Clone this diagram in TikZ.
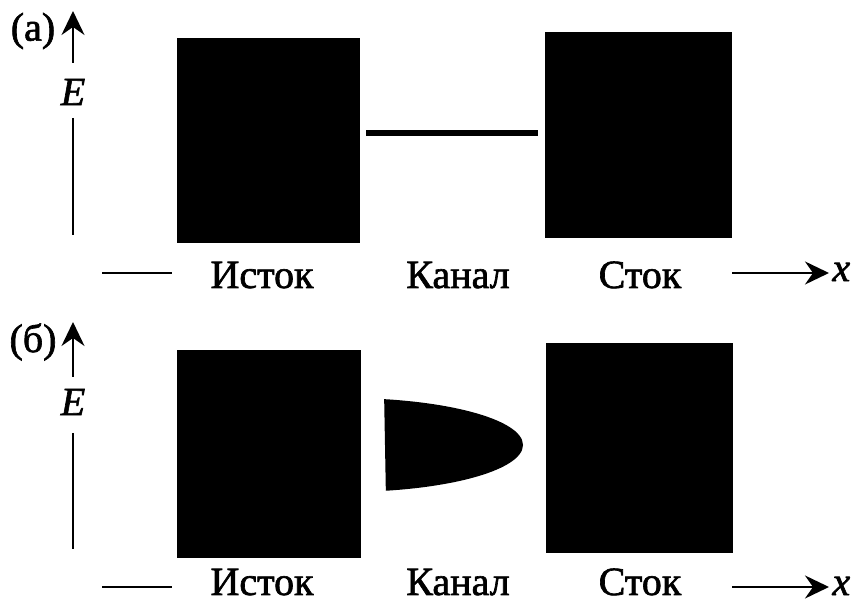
\documentclass[tikz,border=0pt]{standalone}
\usepackage{fontspec}
\setmainfont[FakeBold=1.6]{Liberation Serif}
\usetikzlibrary{arrows.meta}
\tikzset{
  axisline/.style={line width=1.1pt},
  axisarrow/.style={line width=1.1pt,-{Stealth[length=12pt,width=11.5pt,inset=4pt]}},
  block/.style={fill=black},
  lbl/.style={inner sep=0pt,font=\fontsize{20}{24}\selectfont},
  ilbl/.style={inner sep=0pt,font=\fontsize{20}{24}\selectfont\itshape},
}
\begin{document}
\begin{tikzpicture}[x=0.5pt,y=-0.5pt]
\useasboundingbox (0,0) rectangle (857,603);
% ---------- panel (a)
\node[lbl] (la) at (33,31) {(a)};
\node[ilbl] (Ea) at (73,92) {E};
\coordinate (Eas) at (73,63);
\coordinate (Eatop) at (73,11);
\coordinate (Eae) at (73,118);
\coordinate (Eabot) at (73,235);
\draw[axisarrow] (Eas) -- (Eatop);
\draw[axisline] (Eae) -- (Eabot);
\fill[block] (177,38) rectangle (360,243);
\fill[block] (545,32) rectangle (732,238);
\draw[line width=3pt] (366,133) -- (538,133);
\coordinate (xa0) at (102,273);
\coordinate (xa1) at (172,273);
\coordinate (xa2) at (732,273);
\coordinate (xa3) at (829,273);
\draw[axisline] (xa0) -- (xa1);
\draw[axisarrow] (xa2) -- (xa3);
\node[ilbl,anchor=west] (xa) at (832,272) {x};
\node[lbl,anchor=base] (ia) at (262,288) {Исток};
\node[lbl,anchor=base] (ka) at (458,288) {Канал};
\node[lbl,anchor=base] (sa) at (640,288) {Сток};
% ---------- panel (b)
\node[lbl] (lb) at (33,342) {(б)};
\node[ilbl] (Eb) at (73,402) {E};
\coordinate (Ebs) at (73,377);
\coordinate (Ebtop) at (73,322);
\coordinate (Ebe) at (73,433);
\coordinate (Ebbot) at (73,549);
\draw[axisarrow] (Ebs) -- (Ebtop);
\draw[axisline] (Ebe) -- (Ebbot);
\fill[block] (177,350) rectangle (361,558);
\fill[block] (546,343) rectangle (733,553);
\begin{scope}
  \clip (384,390) -- (530,390) -- (530,500) -- (386,500) -- cycle;
  \fill (345,445) ellipse [x radius=178, y radius=47];
\end{scope}
\coordinate (xb0) at (102,587);
\coordinate (xb1) at (172,587);
\coordinate (xb2) at (732,587);
\coordinate (xb3) at (829,587);
\draw[axisline] (xb0) -- (xb1);
\draw[axisarrow] (xb2) -- (xb3);
\node[ilbl,anchor=west] (xb) at (832,586) {x};
\node[lbl,anchor=base] (ib) at (262,595) {Исток};
\node[lbl,anchor=base] (kb) at (458,595) {Канал};
\node[lbl,anchor=base] (sb) at (640,595) {Сток};
\end{tikzpicture}
\end{document}
